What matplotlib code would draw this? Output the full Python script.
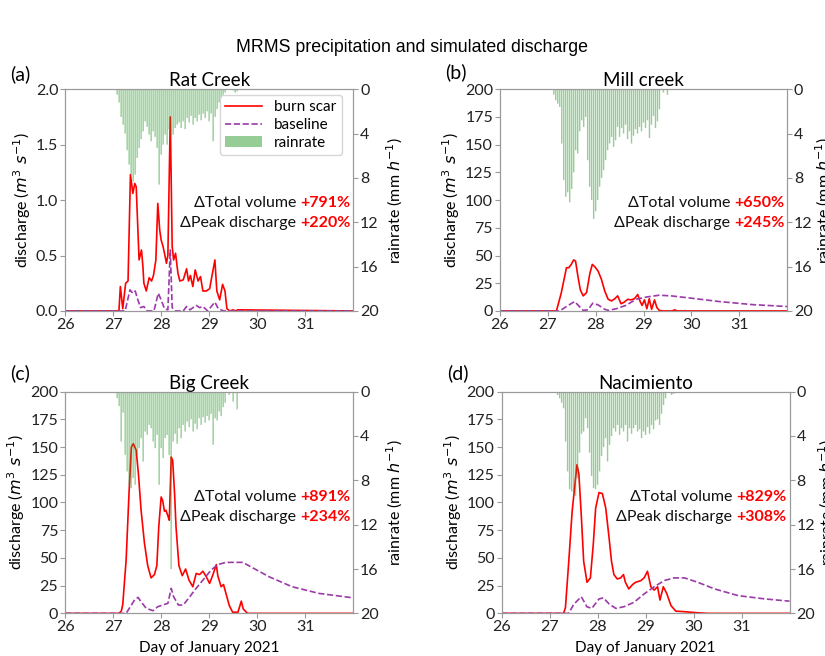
import matplotlib
matplotlib.use('Agg')
import matplotlib.pyplot as plt
import numpy as np

plt.rcParams['font.family'] = ['Lato', 'DejaVu Sans']

# x axis: day of January 2021
# rain rate, hourly values (mm/h) starting at 27.00
rain_start = 27.0
rain_a = [0, 0, 0.5, 1.2, 2.5, 3.2, 4.0, 5.5, 6.8, 7.7, 8.3, 7.7, 6.2, 5.3, 4.5, 3.8,
          2.9, 3.4, 4.1, 4.7, 3.8, 4.3, 5.3, 8.6, 5.9, 5.0, 4.1, 5.0, 3.6, 4.2, 4.1, 3.5,
          3.2, 3.0, 3.5, 2.9, 3.6, 2.6, 3.0, 2.4, 3.2, 2.6, 2.9, 2.3, 2.8, 2.2, 2.6, 2.0,
          2.9, 2.2, 4.7, 2.5, 1.8, 1.2, 0.8, 0.5, 0.3, 0, 0, 0, 0.1, 0.3, 0.2]
rain_b = [0, 0, 0, 0.5, 1.0, 1.3, 1.6, 4.9, 8.2, 9.7, 9.3, 10.2, 9.0, 7.5, 5.5, 5.8,
          3.8, 2.8, 3.4, 2.5, 6.4, 8.8, 10.0, 11.7, 11.0, 10.0, 8.8, 8.0, 7.3, 6.4, 5.5, 4.9,
          4.3, 5.2, 4.6, 3.4, 4.3, 3.5, 4.0, 3.2, 4.5, 3.8, 4.9, 4.2, 3.6, 4.0, 3.4, 3.8,
          3.0, 3.5, 2.8, 4.4, 3.2, 2.4, 3.5, 2.9, 1.8, 0, 0.3, 0, 0.5]
rain_c = [0, 0, 0.6, 1.3, 4.5, 1.9, 5.7, 7.2, 8.4, 8.7, 7.8, 8.4, 5.7, 5.1, 4.2, 6.3,
          3.6, 3.9, 3.0, 3.3, 4.5, 5.1, 3.9, 8.4, 5.1, 6.0, 4.2, 3.9, 5.7, 16.0, 4.5, 3.8,
          4.7, 3.3, 4.2, 3.0, 3.6, 2.7, 3.2, 2.5, 3.6, 2.9, 3.4, 2.4, 3.0, 2.3, 2.8, 2.2,
          2.6, 2.0, 4.8, 2.4, 2.6, 1.8, 2.2, 1.4, 1.0, 0, 0.3, 0, 0.9, 0, 1.6]
rain_d = [0, 0, 0, 0, 0.3, 0.6, 1.0, 1.5, 4.5, 7.2, 8.8, 9.0, 9.3, 9.4, 7.8, 5.5,
          3.8, 3.6, 2.4, 3.3, 5.5, 7.6, 8.7, 8.8, 8.4, 7.2, 5.8, 5.0, 4.2, 6.3, 4.8, 4.0,
          3.3, 3.6, 3.0, 3.9, 3.3, 3.6, 3.0, 4.5, 3.3, 3.8, 3.3, 3.0, 3.6, 3.4, 4.2, 3.6,
          3.9, 3.2, 3.8, 3.0, 3.4, 2.6, 2.5, 3.0, 2.0, 1.2, 0.6, 0, 0, 0.3, 0.2]

# simulated discharge, burn scar (day, value)
burn_a_t = [26.0, 27.12, 27.15, 27.20, 27.26, 27.31, 27.36, 27.41, 27.45, 27.48, 27.54, 27.59,
            27.62, 27.64, 27.69, 27.75, 27.80, 27.84, 27.89, 27.93, 27.97, 28.00, 28.04, 28.07,
            28.11, 28.14, 28.19, 28.23, 28.26, 28.30, 28.35, 28.39, 28.46, 28.53, 28.57, 28.61,
            28.66, 28.71, 28.77, 28.82, 28.87, 28.94, 29.01, 29.12, 29.16, 29.22, 29.28, 29.33,
            29.37, 29.43, 29.50, 29.55, 29.60, 32.0]
burn_a_q = [0, 0, 0.22, 0.02, 0.25, 0.27, 1.23, 1.06, 1.15, 1.12, 0.46, 0.55,
            0.40, 0.25, 0.18, 0.30, 0.27, 0.32, 0.46, 0.97, 0.73, 0.64, 0.58, 0.52,
            0.43, 0.50, 1.75, 0.58, 0.46, 0.52, 0.34, 0.27, 0.28, 0.38, 0.27, 0.32,
            0.22, 0.37, 0.27, 0.31, 0.18, 0.18, 0.20, 0.46, 0.18, 0.10, 0.24, 0.18,
            0.02, 0, 0.01, 0, 0.01, 0]
base_a_t = [26.0, 27.25, 27.35, 27.41, 27.46, 27.50, 27.57, 27.64, 27.71, 27.85, 27.94, 28.00,
            28.07, 28.14, 28.19, 28.23, 28.28, 28.46, 28.53, 28.60, 28.73, 28.80, 28.87, 28.97,
            29.12, 29.19, 29.30, 32.0]
base_a_q = [0, 0, 0.19, 0.16, 0.18, 0.12, 0.03, 0.04, 0, 0, 0.16, 0.10,
            0.02, 0.01, 0.55, 0.03, 0, 0, 0.04, 0.01, 0.05, 0.03, 0.04, 0,
            0.08, 0.02, 0, 0]

burn_b_t = [26.0, 27.18, 27.28, 27.39, 27.44, 27.49, 27.54, 27.58, 27.63, 27.68, 27.74, 27.81,
            27.88, 27.93, 27.98, 28.05, 28.12, 28.19, 28.26, 28.33, 28.40, 28.46, 28.53, 28.60,
            28.67, 28.74, 28.81, 28.88, 28.93, 28.97, 29.02, 29.07, 29.12, 29.17, 29.23, 29.28,
            29.33, 29.40, 29.60, 29.65, 29.70, 32.0]
burn_b_q = [0, 0, 16, 39, 39, 42, 46, 45, 31, 19, 13.6, 16.5,
            34, 42, 40, 36, 28.6, 18, 10.6, 9, 11, 13.6, 6.5, 8,
            10.5, 10, 11, 14.8, 8.5, 5, 10, 2, 11, 1.5, 10, 3,
            0.5, 0, 0, 1, 0, 0]
base_b_t = [26.0, 27.25, 27.39, 27.56, 27.66, 27.74, 27.84, 27.94, 28.05, 28.19, 28.26, 28.43,
            28.63, 28.85, 29.07, 29.33, 29.60, 30.0, 30.58, 31.28, 32.0]
base_b_q = [0, 0, 4, 8.5, 4, 0.5, 1, 7, 5.5, 1.5, 0.5, 2,
            5, 10.6, 12.6, 14.2, 13.5, 11.5, 8.5, 5.7, 4.0]

burn_c_t = [26.0, 27.12, 27.17, 27.20, 27.27, 27.33, 27.38, 27.42, 27.48, 27.53, 27.58, 27.65,
            27.72, 27.79, 27.86, 27.91, 27.95, 28.00, 28.03, 28.07, 28.10, 28.14, 28.17, 28.21,
            28.24, 28.28, 28.31, 28.37, 28.44, 28.51, 28.58, 28.66, 28.73, 28.80, 28.87, 28.94,
            29.01, 29.08, 29.15, 29.18, 29.25, 29.30, 29.35, 29.42, 29.49, 29.60, 29.67, 29.71,
            29.80, 32.0]
burn_c_q = [0, 0, 2, 8, 48, 108, 150, 153, 147, 124, 94, 64,
            43, 32, 35, 43, 78, 105, 102, 92, 93, 88, 84, 141,
            138, 108, 78, 43, 34, 40, 30, 24, 36, 35, 38, 33,
            27, 35, 44, 34, 24, 26, 18, 7, 1, 1, 11, 4,
            0, 0]
base_c_t = [26.0, 27.27, 27.38, 27.45, 27.52, 27.58, 27.69, 27.83, 27.93, 28.03, 28.14, 28.21,
            28.26, 28.36, 28.46, 28.57, 28.70, 28.87, 29.04, 29.18, 29.35, 29.55, 29.70, 30.25,
            30.73, 31.29, 32.0]
base_c_q = [0, 0, 7.5, 12.5, 14.4, 10.5, 4.5, 2.4, 6, 7.5, 9, 22.5,
            15, 7.5, 7.5, 13.5, 21, 30, 39, 44, 46, 46, 46, 33,
            24, 18, 14]

burn_d_t = [26.0, 27.29, 27.33, 27.40, 27.47, 27.52, 27.57, 27.61, 27.66, 27.71, 27.78, 27.85,
            27.91, 27.96, 28.03, 28.10, 28.17, 28.24, 28.29, 28.34, 28.41, 28.48, 28.54, 28.58,
            28.65, 28.73, 28.79, 28.90, 28.97, 29.04, 29.11, 29.18, 29.25, 29.30, 29.37, 29.44,
            29.53, 29.63, 29.81, 30.09, 30.30, 32.0]
burn_d_q = [0, 0, 5, 47, 92, 113, 134, 126, 89, 47, 28, 32,
            62, 95, 109, 108, 95, 68, 47, 35, 31, 32, 35, 28,
            22, 26, 28, 29.5, 32, 38, 24, 21, 24, 12, 24, 18,
            7, 2, 1.5, 0.5, 0, 0]
base_d_t = [26.0, 27.40, 27.50, 27.66, 27.78, 27.88, 28.03, 28.12, 28.24, 28.38, 28.55, 28.76,
            28.97, 29.18, 29.39, 29.60, 29.81, 30.09, 30.44, 30.93, 31.49, 32.0]
base_d_q = [0, 0, 8, 15, 5.9, 4.5, 13, 14, 8.5, 4.5, 6, 10,
            17.5, 24, 29.6, 32, 32, 28, 22, 16, 13, 11]

titles = ['Rat Creek', 'Mill creek', 'Big Creek', 'Nacimiento']
letters = ['(a)', '(b)', '(c)', '(d)']
total_vol = ['+791%', '+650%', '+891%', '+829%']
peak_q = ['+220%', '+245%', '+234%', '+308%']
rains = [rain_a, rain_b, rain_c, rain_d]
burns = [(burn_a_t, burn_a_q), (burn_b_t, burn_b_q), (burn_c_t, burn_c_q), (burn_d_t, burn_d_q)]
bases = [(base_a_t, base_a_q), (base_b_t, base_b_q), (base_c_t, base_c_q), (base_d_t, base_d_q)]

fig = plt.figure(figsize=(8.25, 6.56), dpi=100)
fig.text(0.5, 0.928, 'MRMS precipitation and simulated discharge', ha='center', va='center',
         fontsize=12.8, family='Liberation Sans')

# axes rectangles [left, bottom, width, height]
rects = [[0.079, 0.526, 0.349, 0.338], [0.606, 0.526, 0.348, 0.338],
         [0.079, 0.065, 0.349, 0.338], [0.608, 0.065, 0.349, 0.338]]
letter_pos = [(0.012, 0.887), (0.540, 0.890), (0.012, 0.431), (0.542, 0.431)]
text_y = [(0.486, 0.396), (0.486, 0.396), (0.524, 0.434), (0.524, 0.434)]

spine_col = '#9a9a9a'
for i in range(4):
    ax = fig.add_axes(rects[i])
    t, q = burns[i]
    ax.plot(t, q, color='red', lw=1.2, label='burn scar')
    t, q = bases[i]
    ax.plot(t, q, color='#9b3aa8', lw=1.2, ls='--', label='baseline')
    ax.set_xlim(26, 32)
    ax.set_xticks([26, 27, 28, 29, 30, 31])
    if i == 0:
        ax.set_ylim(0, 2.0)
        ax.set_yticks([0, 0.5, 1.0, 1.5, 2.0])
        ax.set_yticklabels(['0.0', '0.5', '1.0', '1.5', '2.0'])
    else:
        ax.set_ylim(0, 200)
        ax.set_yticks(range(0, 201, 25))
    ax.set_ylabel(r'discharge ($m^3\ s^{-1}$)', fontsize=11.5, labelpad=2)
    ax.set_title(titles[i], fontsize=13.5, pad=2)
    if i >= 2:
        ax.set_xlabel('Day of January 2021', fontsize=11, labelpad=5)

    ax2 = ax.twinx()
    r = np.array(rains[i])
    tr = rain_start + np.arange(len(r)) / 24.0
    ax2.bar(tr, r, width=0.7 / 24, color='#2e9a2e', alpha=0.5, linewidth=0,
            edgecolor='none', label='rainrate', align='center', snap=False)
    ax2.set_ylim(20, 0)
    ax2.set_yticks([0, 4, 8, 12, 16, 20])
    ax2.set_ylabel(r'rainrate (mm $h^{-1}$)', fontsize=11.5, labelpad=4 if i % 2 == 0 else 1)
    ax2.set_xlim(26, 32)

    for a in (ax, ax2):
        for s in a.spines.values():
            s.set_color(spine_col)
        a.tick_params(colors=spine_col, labelcolor='#222222', labelsize=11.5, length=3.5, pad=1.5)

    if i == 0:
        h1, l1 = ax.get_legend_handles_labels()
        h2, l2 = ax2.get_legend_handles_labels()
        ax2.legend(h1 + h2, l1 + l2, loc='upper right', bbox_to_anchor=(0.96, 0.975),
                   borderaxespad=0, fontsize=11, handlelength=2.4, labelspacing=0.25,
                   borderpad=0.35, edgecolor='#cccccc')

    y1, y2 = text_y[i]
    for yy, lab, val in [(y1, '\u0394Total volume ', total_vol[i]), (y2, '\u0394Peak discharge ', peak_q[i])]:
        red = ax2.text(0.99, yy, val, transform=ax2.transAxes, ha='right', va='center',
                       color='red', fontweight='bold', fontsize=11.5)
        ax2.annotate(lab, xy=(0, 0.5), xycoords=red, ha='right', va='center',
                     fontsize=11.5, color='#111111')

    fig.text(letter_pos[i][0], letter_pos[i][1], letters[i], fontsize=14, va='center')

fig.savefig('out.png', dpi=100)
